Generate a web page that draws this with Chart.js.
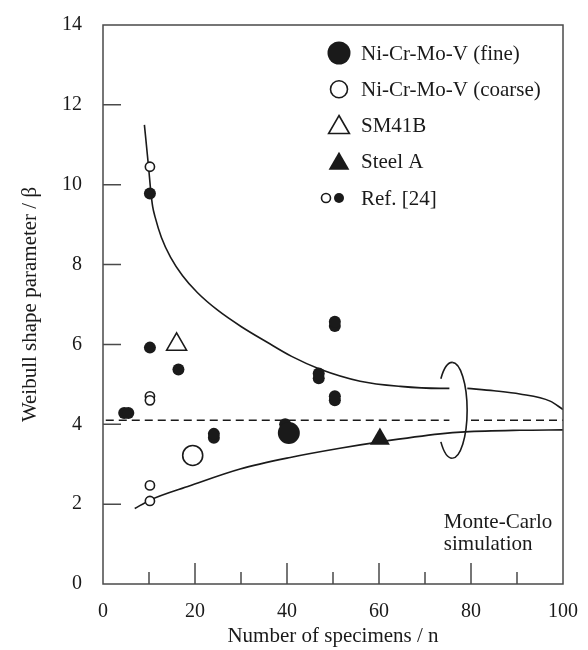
<!DOCTYPE html>
<html>
<head>
<meta charset="utf-8">
<script src="https://cdn.jsdelivr.net/npm/chart.js@4.4.0/dist/chart.umd.min.js"></script>
<style>
html,body{margin:0;padding:0;background:#fff;}
#wrap{width:588px;height:650px;}
</style>
</head>
<body>
<div id="wrap"><canvas id="weibull" width="588" height="650"></canvas></div>
<script>
// Ni-Cr-Mo-V (fine) / (coarse)
var fineX = [40.4];
var fineY = [3.78];
var coarseX = [19.5];
var coarseY = [3.22];
// SM41B and Steel A
var sm41bX = [16];
var sm41bY = [6.0];
var steelAX = [60.2];
var steelAY = [3.63];
// Ref. [24] open and filled points
var refOpenX = [10.2, 10.2, 10.2, 10.2, 10.2];
var refOpenY = [10.45, 4.7, 4.6, 2.47, 2.08];
var refFillX = [10.2, 10.2, 16.4, 4.6, 5.5, 24.1, 24.1, 39.6, 46.9, 46.9, 50.4, 50.4, 50.4, 50.4];
var refFillY = [9.78, 5.92, 5.37, 4.28, 4.28, 3.66, 3.76, 4.0, 5.15, 5.27, 4.6, 4.7, 6.46, 6.57];
// Monte-Carlo bounds (null = hidden behind the ring)
var upperX = [9.0, 9.9, 10.4, 10.8, 11.3, 12.7, 14.7, 17.3, 20.5, 25, 30, 35.6, 41, 47.2, 55.9, 64.6, 73.3, 75.3, 77, 79.2, 85, 90.6, 97.2, 100];
var upperY = [11.5, 10.45, 9.82, 9.45, 9.2, 8.68, 8.18, 7.72, 7.3, 6.85, 6.45, 6.06, 5.7, 5.38, 5.08, 4.95, 4.9, 4.9, null, 4.9, 4.84, 4.76, 4.58, 4.37];
var lowerX = [6.9, 10.2, 18.9, 29.8, 40.7, 51.5, 60.2, 73.3, 78.7, 90.6, 100];
var lowerY = [1.89, 2.1, 2.46, 2.88, 3.17, 3.4, 3.56, 3.76, 3.81, 3.85, 3.86];
var meanX = [0.6, 75.3, 77, 80, 100];
var meanY = [4.1, 4.1, null, 4.1, 4.1];
// ring (data units)
var ringCx = 75.9, ringCy = 4.35, ringRx = 3.26, ringRy = 1.2;
// axis ticks
var xMin = 0, xMax = 100, xStep = 20, xMinorStep = 10;
var yMin = 0, yMax = 14, yStep = 2;
// legend
var legendLabels = ['Ni-Cr-Mo-V (fine)', 'Ni-Cr-Mo-V (coarse)', 'SM41B', 'Steel A', 'Ref. [24]'];
var noteLines = ['Monte-Carlo', 'simulation'];

var ink = '#1a1a1a';
var axisColor = '#4a4a4a';
var serif = "'Liberation Serif', 'Times New Roman', serif";

function pts(xs, ys){
    var out = [];
    for (var i = 0; i < xs.length; i++) out.push({x: xs[i], y: ys[i]});
    return out;
}

function lineSet(xs, ys, dash){
    return {
        type: 'line', data: pts(xs, ys), borderColor: ink, borderWidth: 1.6,
        borderDash: dash || [], pointRadius: 0, fill: false, spanGaps: false,
        cubicInterpolationMode: 'monotone', order: 5
    };
}

function markSet(xs, ys, style, r, filled){
    return {
        type: 'scatter', data: pts(xs, ys), pointStyle: style, pointRadius: r,
        pointBackgroundColor: filled ? ink : '#fff', pointBorderColor: ink,
        pointBorderWidth: filled ? 0 : 1.6, order: 1
    };
}

var frame = {
    id: 'frame',
    afterDraw: function(chart){
        var ctx = chart.ctx, a = chart.chartArea;
        var xs = chart.scales.x, ys = chart.scales.y;
        ctx.save();
        ctx.strokeStyle = axisColor;
        ctx.lineWidth = 1.5;
        ctx.strokeRect(a.left, a.top, a.right - a.left, a.bottom - a.top);
        ctx.beginPath();
        for (var v = yMin + yStep; v < yMax; v += yStep){
            var py = ys.getPixelForValue(v);
            ctx.moveTo(a.left, py); ctx.lineTo(a.left + 18, py);
        }
        for (var i = 1; xMin + i * xMinorStep < xMax; i++){
            var xv = xMin + i * xMinorStep;
            var px = xs.getPixelForValue(xv);
            var len = (xv % xStep === 0) ? 21 : 12;
            ctx.moveTo(px, a.bottom); ctx.lineTo(px, a.bottom - len);
        }
        ctx.stroke();
        ctx.restore();
    }
};

var ring = {
    id: 'ring',
    afterDatasetsDraw: function(chart){
        var ctx = chart.ctx, xs = chart.scales.x, ys = chart.scales.y;
        var cx = xs.getPixelForValue(ringCx), cy = ys.getPixelForValue(ringCy);
        var rx = xs.getPixelForValue(ringCx + ringRx) - cx;
        var ry = cy - ys.getPixelForValue(ringCy + ringRy);
        ctx.save();
        ctx.strokeStyle = ink;
        ctx.lineWidth = 1.6;
        ctx.beginPath();
        ctx.ellipse(cx, cy, rx, ry, 0, -Math.PI / 2, Math.PI / 2);
        ctx.stroke();
        ctx.beginPath();
        ctx.ellipse(cx, cy, rx, ry, 0, Math.PI + 0.72, Math.PI * 1.5);
        ctx.stroke();
        ctx.beginPath();
        ctx.ellipse(cx, cy, rx, ry, 0, Math.PI / 2, Math.PI - 0.72);
        ctx.stroke();
        // note text
        ctx.fillStyle = ink;
        ctx.font = '21px ' + serif;
        ctx.textBaseline = 'alphabetic';
        ctx.textAlign = 'left';
        var tx = xs.getPixelForValue(74.1), ty = ys.getPixelForValue(1.4);
        ctx.fillText(noteLines[0], tx, ty);
        ctx.fillText(noteLines[1], tx, ty + 22);
        ctx.restore();
    }
};

var legendBox = {
    id: 'legendBox',
    afterDraw: function(chart){
        var ctx = chart.ctx, a = chart.chartArea;
        var mx = a.left + 236, tx = a.left + 258;
        var marks = [
            [{pointStyle: 'circle', radius: 11.5, borderWidth: 0}, true, 0],
            [{pointStyle: 'circle', radius: 8.5, borderWidth: 1.6}, false, 0],
            [{pointStyle: 'triangle', radius: 12, borderWidth: 1.6}, false, 0],
            [{pointStyle: 'triangle', radius: 12, borderWidth: 0}, true, 0]
        ];
        ctx.save();
        ctx.font = '21px ' + serif;
        ctx.textBaseline = 'middle';
        ctx.textAlign = 'left';
        for (var i = 0; i < legendLabels.length; i++){
            var y = a.top + 28 + i * 36.25;
            ctx.fillStyle = ink;
            ctx.strokeStyle = ink;
            ctx.lineWidth = 1.6;
            if (i < 4){
                var m = marks[i];
                ctx.fillStyle = m[1] ? ink : '#fff';
                var dy = m[0].pointStyle === 'triangle' ? 2 : 0;
                Chart.helpers.drawPoint(ctx, m[0], mx, y + dy);
            } else {
                ctx.fillStyle = '#fff';
                Chart.helpers.drawPoint(ctx, {pointStyle: 'circle', radius: 4.5, borderWidth: 1.6}, mx - 13, y);
                ctx.fillStyle = ink;
                Chart.helpers.drawPoint(ctx, {pointStyle: 'circle', radius: 5, borderWidth: 0}, mx, y);
            }
            ctx.fillStyle = ink;
            ctx.fillText(legendLabels[i], tx, y + 1);
        }
        ctx.restore();
    }
};

var ctx = document.getElementById('weibull').getContext('2d');
var myChart = new Chart(ctx, {
    type: 'scatter',
    data: {
        datasets: [
            markSet(fineX, fineY, 'circle', 11, true),
            markSet(coarseX, coarseY, 'circle', 10, false),
            markSet(sm41bX, sm41bY, 'triangle', 11.5, false),
            markSet(steelAX, steelAY, 'triangle', 11.5, true),
            markSet(refFillX, refFillY, 'circle', 6, true),
            markSet(refOpenX, refOpenY, 'circle', 4.6, false),
            lineSet(upperX, upperY),
            lineSet(lowerX, lowerY),
            lineSet(meanX, meanY, [8, 5])
        ]
    },
    options: {
        responsive: false,
        animation: false,
        layout: { padding: { top: 16, right: 25, left: 0, bottom: 0 } },
        plugins: { legend: { display: false }, tooltip: { enabled: false } },
        scales: {
            x: {
                type: 'linear', min: xMin, max: xMax,
                afterFit: function(s){ s.height = 66; },
                grid: { display: false },
                border: { display: false },
                ticks: { stepSize: xStep, padding: 8, color: ink, font: { family: serif, size: 20 } },
                title: { display: true, text: 'Number of specimens / n', color: ink,
                         padding: { bottom: 1, top: 0 }, font: { family: serif, size: 21 } }
            },
            y: {
                type: 'linear', min: yMin, max: yMax,
                afterFit: function(s){ s.width = 103; },
                grid: { display: false },
                border: { display: false },
                ticks: { stepSize: yStep, padding: 13, color: ink, font: { family: serif, size: 20 } },
                title: { display: true, text: 'Weibull shape parameter / β', color: ink,
                         padding: { top: 18, bottom: 0 }, font: { family: serif, size: 21 } }
            }
        }
    },
    plugins: [frame, ring, legendBox]
});
</script>
</body>
</html>
